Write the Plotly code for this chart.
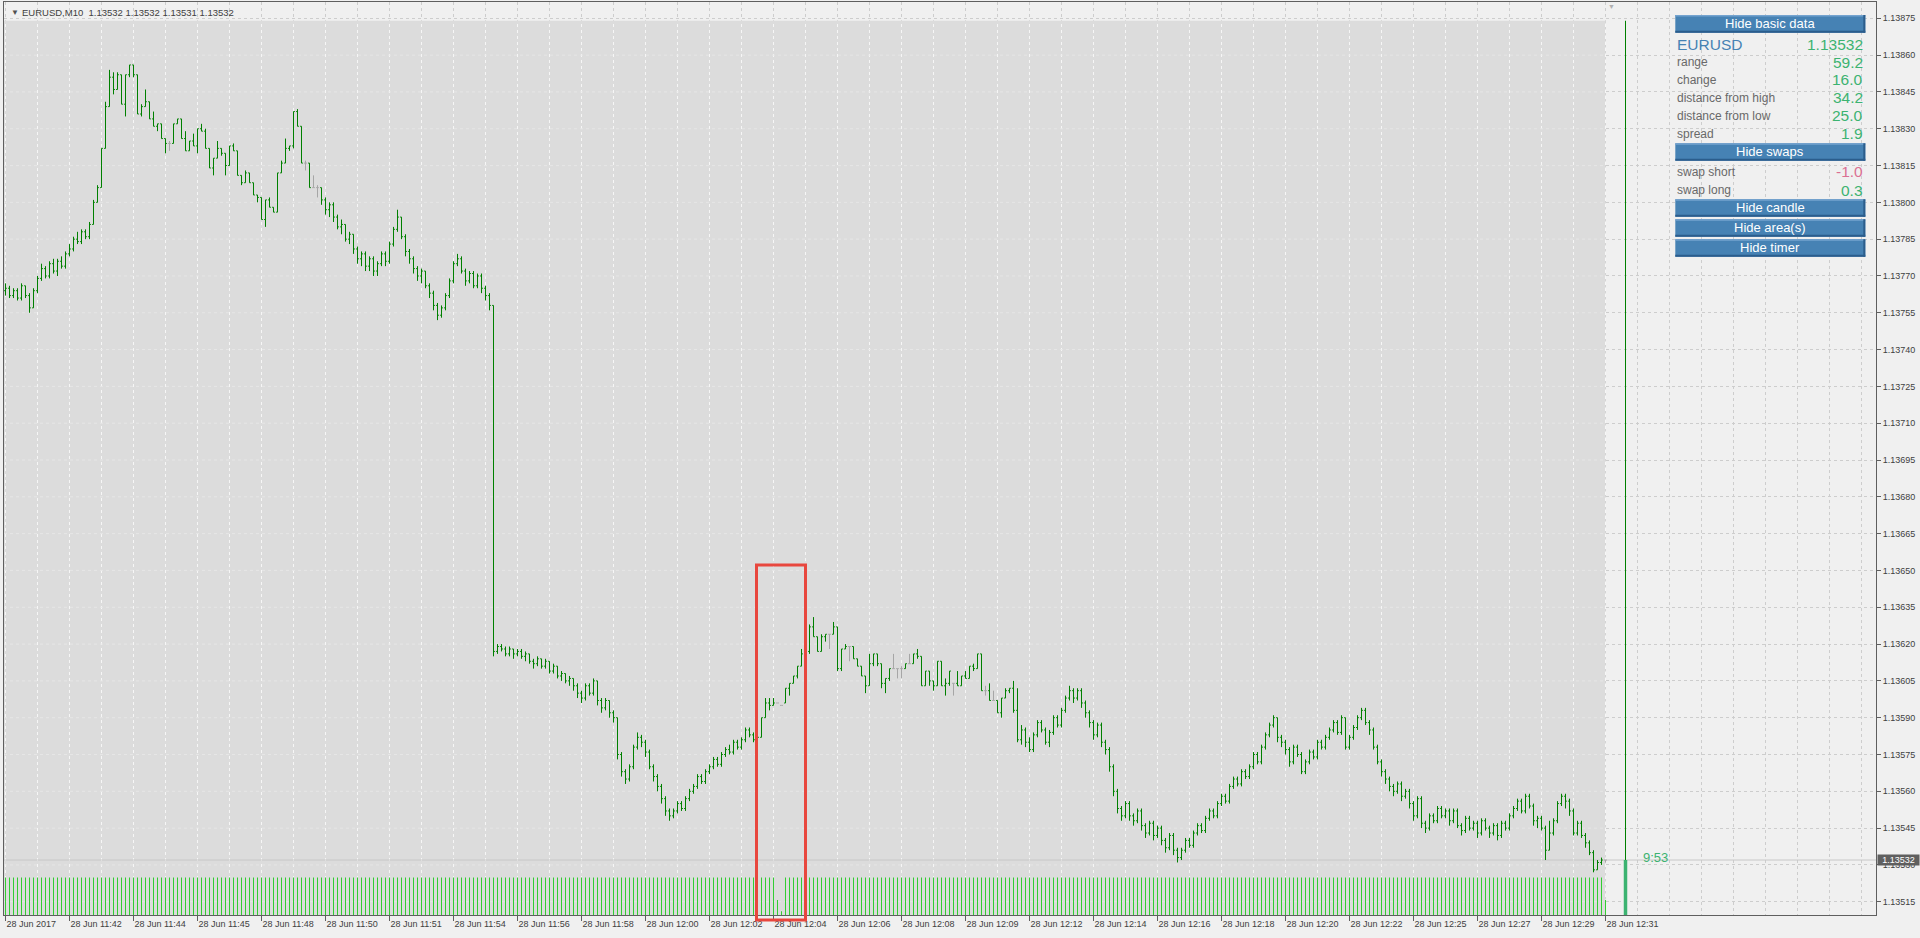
import plotly.graph_objects as go

# ---------------- data (prices in points, 1 point = 0.00001) ----------------
x_labels = ["28 Jun 2017", "28 Jun 11:42", "28 Jun 11:44", "28 Jun 11:45", "28 Jun 11:48",
            "28 Jun 11:50", "28 Jun 11:51", "28 Jun 11:54", "28 Jun 11:56", "28 Jun 11:58",
            "28 Jun 12:00", "28 Jun 12:02", "28 Jun 12:04", "28 Jun 12:06", "28 Jun 12:08",
            "28 Jun 12:09", "28 Jun 12:12", "28 Jun 12:14", "28 Jun 12:16", "28 Jun 12:18",
            "28 Jun 12:20", "28 Jun 12:22", "28 Jun 12:25", "28 Jun 12:27", "28 Jun 12:29",
            "28 Jun 12:31"]
label_every = 16
grid_every = 8

close_pts = [
    113765,113762,113764,113761,113766,113762,113757,113764,113769,113773,113770,113775,113772,113776,113774,113779,113781,113785,113784,113788,
    113786,113791,113800,113806,113822,113839,113851,113846,113852,113840,113852,113856,113852,113836,113839,113841,113834,113831,113832,113826,
    113824,113824,113832,113834,113826,113821,113825,113823,113830,113829,113822,113814,113818,113822,113820,113815,113823,113821,113811,113808,
    113812,113808,113803,113802,113793,113801,113798,113796,113812,113816,113822,113823,113837,113831,113816,113816,113806,113806,113806,113801,
    113797,113799,113794,113790,113791,113785,113787,113781,113777,113779,113774,113777,113772,113775,113779,113776,113783,113789,113794,113786,
    113780,113777,113773,113770,113772,113766,113763,113758,113754,113757,113762,113768,113775,113777,113772,113768,113771,113766,113770,113765,
    113762,113758,113617,113619,113618,113616,113618,113616,113617,113615,113616,113613,113612,113614,113611,113613,113609,113611,113607,113608,
    113605,113606,113603,113600,113598,113603,113600,113605,113597,113594,113597,113592,113590,113575,113568,113565,113570,113578,113582,113580,
    113576,113570,113566,113562,113557,113552,113550,113552,113555,113553,113557,113560,113562,113566,113564,113568,113570,113573,113571,113575,
    113577,113576,113580,113578,113581,113585,113583,113581,113582,113590,113596,113595,113596,113596,113595,113602,113604,113607,113611,113616,
    113617,113627,113623,113617,113623,113624,113624,113627,113610,113618,113619,113619,113614,113611,113607,113603,113612,113616,113612,113604,
    113606,113610,113610,113610,113610,113612,113612,113616,113615,113603,113609,113605,113603,113613,113603,113604,113609,113604,113603,113607,
    113606,113611,113610,113616,113601,113601,113597,113597,113592,113598,113601,113602,113593,113581,113585,113580,113577,113583,113588,113585,
    113580,113584,113590,113587,113593,113598,113601,113598,113601,113596,113592,113588,113583,113587,113580,113577,113570,113560,113553,113550,
    113555,113550,113548,113552,113546,113543,113547,113542,113545,113540,113537,113542,113536,113533,113536,113540,113538,113543,113546,113544,
    113549,113552,113550,113555,113558,113556,113562,113565,113563,113568,113566,113570,113575,113572,113578,113583,113587,113590,113582,113580,
    113577,113572,113578,113575,113568,113572,113576,113574,113580,113578,113582,113585,113588,113584,113590,113578,113582,113586,113590,113593,
    113588,113585,113578,113572,113568,113565,113562,113560,113563,113558,113560,113555,113550,113557,113547,113545,113550,113548,113553,113550,
    113552,113548,113552,113546,113544,113549,113545,113547,113543,113548,113545,113543,113546,113542,113547,113545,113550,113553,113556,113552,
    113558,113554,113548,113549,113545,113536,113543,113548,113555,113558,113556,113552,113543,113547,113542,113539,113535,113528,113531,113532,
    113532]

high_pts = [
    113767,113766,113765,113765,113767,113766,113763,113765,113770,113775,113774,113776,113777,113777,113778,113780,113783,113786,113788,113789,
    113789,113792,113801,113807,113822,113841,113854,113853,113853,113852,113852,113856,113856,113852,113840,113846,113841,113837,113832,113832,
    113826,113825,113832,113834,113834,113829,113825,113828,113830,113832,113830,113822,113818,113825,113822,113820,113823,113824,113821,113811,
    113813,113812,113808,113803,113802,113801,113802,113798,113812,113817,113826,113823,113837,113838,113831,113817,113816,113811,113807,113806,
    113802,113800,113800,113795,113793,113791,113788,113787,113782,113780,113780,113778,113778,113776,113780,113780,113784,113790,113797,113794,
    113787,113781,113778,113774,113773,113772,113767,113764,113759,113758,113763,113769,113776,113779,113778,113773,113772,113772,113771,113771,
    113766,113763,113758,113620,113620,113619,113619,113618,113618,113618,113617,113616,113614,113615,113614,113614,113613,113612,113611,113609,
    113608,113607,113606,113604,113601,113604,113604,113606,113605,113598,113598,113597,113593,113590,113576,113569,113571,113579,113584,113583,
    113581,113577,113571,113567,113563,113558,113553,113553,113556,113556,113558,113561,113563,113567,113567,113569,113571,113574,113574,113576,
    113578,113579,113581,113581,113582,113586,113586,113584,113583,113590,113598,113598,113598,113596,113595,113602,113604,113607,113611,113618,
    113619,113628,113631,113623,113624,113624,113624,113629,113627,113618,113620,113619,113619,113614,113611,113607,113616,113616,113616,113612,
    113606,113610,113616,113610,113611,113612,113616,113616,113618,113615,113609,113609,113605,113613,113613,113606,113609,113604,113609,113607,
    113609,113611,113612,113616,113616,113603,113604,113601,113597,113598,113602,113602,113605,113602,113587,113586,113582,113584,113589,113589,
    113586,113585,113591,113591,113594,113599,113603,113602,113602,113602,113597,113593,113589,113588,113588,113581,113578,113571,113561,113554,
    113556,113556,113551,113553,113553,113547,113548,113548,113546,113546,113541,113543,113543,113537,113537,113541,113541,113544,113547,113547,
    113550,113553,113553,113556,113559,113559,113563,113566,113566,113569,113569,113571,113576,113576,113579,113584,113588,113591,113590,113583,
    113581,113578,113579,113579,113576,113573,113577,113577,113581,113581,113583,113586,113589,113589,113591,113590,113583,113587,113591,113594,
    113594,113589,113586,113579,113573,113569,113566,113563,113564,113564,113561,113561,113556,113558,113558,113548,113551,113551,113554,113554,
    113553,113553,113553,113553,113547,113550,113550,113548,113548,113549,113549,113546,113547,113547,113548,113548,113551,113554,113557,113557,
    113559,113559,113555,113550,113550,113546,113548,113549,113556,113559,113559,113557,113553,113548,113548,113543,113540,113536,113532,113533,
    113532]

low_pts = [
    113762,113761,113761,113760,113760,113761,113755,113757,113763,113768,113769,113769,113771,113770,113773,113773,113778,113780,113783,113783,
    113785,113785,113791,113800,113806,113822,113839,113844,113846,113840,113835,113851,113851,113836,113835,113839,113834,113831,113829,113826,
    113820,113821,113824,113832,113826,113821,113821,113823,113820,113829,113822,113814,113811,113818,113819,113811,113815,113821,113811,113807,
    113808,113808,113803,113800,113793,113790,113798,113796,113796,113812,113816,113821,113822,113831,113816,113813,113806,113806,113802,113799,
    113795,113794,113792,113789,113787,113784,113783,113779,113775,113774,113772,113772,113770,113770,113774,113774,113775,113782,113788,113785,
    113778,113775,113771,113768,113767,113765,113761,113756,113752,113753,113756,113761,113767,113774,113771,113766,113767,113765,113765,113763,
    113760,113756,113615,113616,113617,113615,113615,113614,113615,113614,113613,113612,113610,113611,113610,113610,113608,113608,113606,113605,
    113604,113603,113601,113598,113596,113597,113599,113599,113595,113592,113593,113590,113588,113573,113566,113563,113564,113569,113577,113578,
    113574,113569,113564,113560,113555,113550,113548,113549,113551,113552,113552,113556,113559,113561,113563,113563,113567,113569,113570,113570,
    113574,113575,113575,113577,113577,113580,113582,113580,113578,113582,113590,113593,113595,113596,113595,113596,113599,113604,113606,113611,
    113615,113616,113623,113617,113617,113621,113618,113624,113609,113609,113618,113613,113614,113611,113607,113600,113603,113611,113611,113602,
    113600,113605,113610,113606,113606,113610,113612,113612,113614,113603,113603,113603,113601,113603,113603,113599,113603,113599,113603,113603,
    113606,113606,113609,113610,113601,113599,113597,113597,113592,113590,113598,113600,113592,113580,113579,113578,113576,113576,113582,113584,
    113579,113578,113583,113586,113586,113592,113597,113596,113597,113594,113590,113586,113581,113582,113578,113575,113568,113558,113551,113548,
    113549,113548,113546,113547,113544,113541,113542,113540,113541,113538,113535,113536,113534,113531,113532,113535,113537,113537,113542,113543,
    113543,113548,113549,113549,113554,113555,113555,113561,113562,113562,113565,113565,113569,113571,113571,113577,113582,113586,113580,113578,
    113575,113570,113571,113574,113567,113567,113571,113573,113573,113577,113577,113581,113584,113583,113583,113577,113577,113581,113585,113589,
    113587,113583,113577,113571,113566,113563,113560,113558,113559,113556,113557,113553,113548,113549,113545,113543,113544,113547,113547,113549,
    113549,113546,113547,113545,113542,113543,113544,113544,113541,113542,113544,113541,113542,113540,113541,113544,113544,113549,113552,113551,
    113551,113553,113546,113545,113544,113532,113536,113542,113547,113554,113553,113550,113542,113542,113541,113537,113534,113527,113528,113530,
    113531]

# bars open at the previous bar's close, except these
first_open_pts = 113764
open_exceptions_pts = {194: 113595, 195: 113596, 237: 113604}

# tick volume: constant 10 ticks per bar, except these
tick_volume_full = 10
tick_volume_exceptions = {193: 4, 194: 1, 400: 4}

# daily candle and basic data panel
day_open, day_high, day_low, day_close = 1.13372, 1.13874, 1.13282, 1.13532
header_text = "EURUSD,M10\u00a0\u00a01.13532 1.13532 1.13531 1.13532"
symbol, bid_text = "EURUSD", "1.13532"
basic_names = ["range", "change", "distance from high", "distance from low", "spread"]
basic_values = ["59.2", "16.0", "34.2", "25.0", "1.9"]
swap_names = ["swap short", "swap long"]
swap_values = ["-1.0", "0.3"]
timer_text = "9:53"

# ---------------- build ----------------
n = len(close_pts)
opens = []
for i in range(n):
    if i in open_exceptions_pts:
        opens.append(open_exceptions_pts[i])
    elif i == 0:
        opens.append(first_open_pts)
    else:
        opens.append(close_pts[i - 1])
O = [v / 1e5 for v in opens]
Hh = [v / 1e5 for v in high_pts]
Ll = [v / 1e5 for v in low_pts]
C = [v / 1e5 for v in close_pts]
vol = [tick_volume_exceptions.get(i, tick_volume_full) for i in range(n)]

W, Hpx = 1920, 938
ML, MR, MT, MB = 4, 44, 2, 23
PW, PH = W - ML - MR, Hpx - MT - MB
BAR_PX = 4.0
x0 = -1.5 / BAR_PX
x_range = [x0, x0 + PW / BAR_PX]
REF_PRICE, REF_PY, STEP, STEP_PX = 1.13875, 18.3, 0.00015, 36.81
PPX = STEP / STEP_PX
y_range = [REF_PRICE - (Hpx - MB - REF_PY) * PPX, REF_PRICE + (REF_PY - MT) * PPX]


def xp(px):
    return (px - ML) / PW


def yp(py):
    return (Hpx - MB - py) / PH


def price_to_paper(p):
    return (p - y_range[0]) / (y_range[1] - y_range[0])


def bar_to_paper(b):
    return (b - x_range[0]) / (x_range[1] - x_range[0])


FONT = "Liberation Sans, Arial, sans-serif"
GREEN = "#008000"
DOJI = "#a6a6a6"

fig = go.Figure()

# grid lines inside the shaded session area
yt = []
t = 1.13515
while t < y_range[1]:
    yt.append(round(t, 5))
    t += STEP
gx, gy = [], []
for k in range(0, n, grid_every):
    gx += [k, k, None]
    gy += [y_range[0], day_high, None]
fig.add_trace(go.Scatter(x=gx, y=gy, mode="lines", line=dict(color="#f6f6f6", width=1, dash="3px,3px"),
                         hoverinfo="skip", showlegend=False))
hx, hy = [], []
for v in yt:
    if v < day_high:
        hx += [x_range[0], n - 1, None]
        hy += [v, v, None]
fig.add_trace(go.Scatter(x=hx, y=hy, mode="lines", line=dict(color="#e6e6e6", width=1, dash="3px,3px"),
                         hoverinfo="skip", showlegend=False))

# bid line
fig.add_trace(go.Scatter(x=[x_range[0], x_range[1]], y=[C[-1], C[-1]], mode="lines",
                         line=dict(color="#c8c8c8", width=1), hoverinfo="skip", showlegend=False))

# OHLC bars
TW = 0.35
bx, by, dx, dy = [], [], [], []
for i in range(n):
    xs = [i, i, None, i - TW, i, None, i, i + TW, None]
    ys = [Ll[i], Hh[i], None, O[i], O[i], None, C[i], C[i], None]
    if close_pts[i] == opens[i]:
        dx += xs
        dy += ys
    else:
        bx += xs
        by += ys
fig.add_trace(go.Scatter(x=bx, y=by, mode="lines", line=dict(color=GREEN, width=1),
                         hoverinfo="skip", showlegend=False))
fig.add_trace(go.Scatter(x=dx, y=dy, mode="lines", line=dict(color=DOJI, width=1),
                         hoverinfo="skip", showlegend=False))

# daily candle
cand_x = n - 1 + 5
fig.add_trace(go.Scatter(x=[cand_x, cand_x], y=[day_close, day_high], mode="lines",
                         line=dict(color=GREEN, width=1), hoverinfo="skip", showlegend=False))
fig.add_trace(go.Scatter(x=[cand_x, cand_x], y=[day_open, day_close], mode="lines",
                         line=dict(color="#3cb371", width=3.5), hoverinfo="skip", showlegend=False))

# volumes
vx, vy = [], []
for i in range(n):
    vx += [i, i, None]
    vy += [0, vol[i], None]
fig.add_trace(go.Scatter(x=vx, y=vy, mode="lines", line=dict(color="#32cd32", width=1),
                         hoverinfo="skip", showlegend=False, yaxis="y2"))

shapes = []
annotations = []

# shaded session area (day low .. day high)
shapes.append(dict(type="rect", xref="x", yref="y", x0=x_range[0] - 5, x1=n - 1, y0=day_low, y1=day_high,
                   fillcolor="#dcdcdc", line=dict(width=0), layer="between"))

# red highlight box
rb_x0, rb_x1 = bar_to_paper(187.75), bar_to_paper(200.0)
rb_y1 = price_to_paper(1.136522)
rb_y0 = yp(920)
shapes.append(dict(type="rect", xref="paper", yref="paper", x0=rb_x0, x1=rb_x1, y0=rb_y0, y1=rb_y1,
                   line=dict(color="#e8473e", width=3), fillcolor="rgba(0,0,0,0)", layer="above"))

# header
annotations.append(dict(xref="paper", yref="paper", x=xp(8.5), y=yp(12.7), text="\u25bc", showarrow=False,
                        xanchor="left", yanchor="middle", font=dict(family=FONT, size=8, color="#505050")))
annotations.append(dict(xref="paper", yref="paper", x=xp(19.5), y=yp(12.7), text=header_text, showarrow=False,
                        xanchor="left", yanchor="middle", font=dict(family=FONT, size=9.5, color="#404040")))
annotations.append(dict(xref="paper", yref="paper", x=xp(1611.7), y=yp(6.5), text="\u25bc", showarrow=False,
                        xanchor="center", yanchor="middle", font=dict(family=FONT, size=7, color="#b0b0b0")))

# panel
PX0, PX1 = 1675.3, 1865.3
buttons = [("Hide basic data", 15.0, 32.7), ("Hide swaps", 143.3, 160.7), ("Hide candle", 199.3, 216.7),
           ("Hide area(s)", 219.3, 236.7), ("Hide timer", 239.3, 256.7)]
for label, t0, t1 in buttons:
    shapes.append(dict(type="rect", xref="paper", yref="paper", x0=xp(PX0), x1=xp(PX1), y0=yp(t1), y1=yp(t0),
                       fillcolor="#4682b4", line=dict(width=0), layer="above"))
    shapes.append(dict(type="line", xref="paper", yref="paper", x0=xp(PX0), x1=xp(PX1), y0=yp(t0 + 0.8), y1=yp(t0 + 0.8),
                       line=dict(color="#74a3cf", width=1.5), layer="above"))
    shapes.append(dict(type="line", xref="paper", yref="paper", x0=xp(PX0), x1=xp(PX1), y0=yp(t1 - 1), y1=yp(t1 - 1),
                       line=dict(color="#2b5d8c", width=2), layer="above"))
    shapes.append(dict(type="line", xref="paper", yref="paper", x0=xp(PX1 - 1), x1=xp(PX1 - 1), y0=yp(t1), y1=yp(t0),
                       line=dict(color="#2b5d8c", width=2), layer="above"))
    annotations.append(dict(xref="paper", yref="paper", x=xp((PX0 + PX1) / 2), y=yp((t0 + t1) / 2 - 0.3), text=label,
                            showarrow=False, xanchor="center", yanchor="middle",
                            font=dict(family=FONT, size=13, color="white")))

annotations.append(dict(xref="paper", yref="paper", x=xp(PX0), y=yp(44.3), text=symbol, showarrow=False,
                        xanchor="left", yanchor="middle", font=dict(family=FONT, size=15.5, color="#4682b4")))
annotations.append(dict(xref="paper", yref="paper", x=xp(PX1), y=yp(44.3), text=bid_text, showarrow=False,
                        xanchor="right", yanchor="middle", font=dict(family=FONT, size=15.5, color="#3cb371")))
row_y = [62.0, 80.0, 97.7, 115.7, 133.7]
for nm, val, yy in zip(basic_names, basic_values, row_y):
    annotations.append(dict(xref="paper", yref="paper", x=xp(PX0), y=yp(yy), text=nm, showarrow=False,
                            xanchor="left", yanchor="middle", font=dict(family=FONT, size=12, color="#696969")))
    annotations.append(dict(xref="paper", yref="paper", x=xp(PX1), y=yp(yy), text=val, showarrow=False,
                            xanchor="right", yanchor="middle", font=dict(family=FONT, size=15.5, color="#3cb371")))
swap_y = [171.7, 190.0]
for nm, val, yy in zip(swap_names, swap_values, swap_y):
    col = "#db7093" if val.startswith("-") else "#3cb371"
    annotations.append(dict(xref="paper", yref="paper", x=xp(PX0), y=yp(yy), text=nm, showarrow=False,
                            xanchor="left", yanchor="middle", font=dict(family=FONT, size=12, color="#696969")))
    annotations.append(dict(xref="paper", yref="paper", x=xp(PX1), y=yp(yy), text=val, showarrow=False,
                            xanchor="right", yanchor="middle", font=dict(family=FONT, size=15.5, color=col)))

# timer
annotations.append(dict(xref="paper", yref="y", x=xp(1640.5), y=day_close + 0.0000085, text=timer_text, showarrow=False,
                        xanchor="left", yanchor="middle", font=dict(family=FONT, size=13, color="#3cb371")))
# current price label on axis
annotations.append(dict(xref="paper", yref="y", x=xp(1876.7), y=C[-1], text=bid_text, showarrow=False,
                        xanchor="left", yanchor="middle", width=41, height=10, bgcolor="#5f5f5f", borderpad=0,
                        font=dict(family=FONT, size=9, color="white")))

fig.update_layout(
    width=W, height=Hpx, autosize=False,
    margin=dict(l=ML, r=MR, t=MT, b=MB, pad=0),
    paper_bgcolor="#f0f0f0", plot_bgcolor="#f0f0f0",
    showlegend=False, hovermode=False,
    shapes=shapes, annotations=annotations,
    xaxis=dict(range=x_range, tickmode="array", tickvals=list(range(0, n, label_every)), ticktext=x_labels,
               ticks="outside", ticklen=5, tickcolor="#5f5f5f", ticklabelposition="outside right",
               tickfont=dict(family=FONT, size=9, color="#404040"),
               showgrid=True, gridcolor="#cdcdcd", griddash="3px,3px", gridwidth=1,
               minor=dict(tick0=0, dtick=grid_every, showgrid=True, gridcolor="#cdcdcd", griddash="3px,3px",
                          ticks=""),
               showline=True, linecolor="#5f5f5f", linewidth=1, mirror=True, zeroline=False, fixedrange=True),
    yaxis=dict(range=y_range, side="right", tick0=1.13515, dtick=STEP, tickformat=".5f",
               ticks="outside", ticklen=4, tickcolor="#5f5f5f",
               tickfont=dict(family=FONT, size=9, color="#404040"),
               showgrid=True, gridcolor="#cdcdcd", griddash="3px,3px", gridwidth=1,
               showline=True, linecolor="#5f5f5f", linewidth=1, mirror=True, zeroline=False, fixedrange=True),
    yaxis2=dict(overlaying="y", range=[0, tick_volume_full * PH / 37.5], visible=False, fixedrange=True),
)

fig.write_html("out.html", config={"displayModeBar": False},
               post_script="document.body.style.margin='0';document.body.style.overflow='hidden';")
